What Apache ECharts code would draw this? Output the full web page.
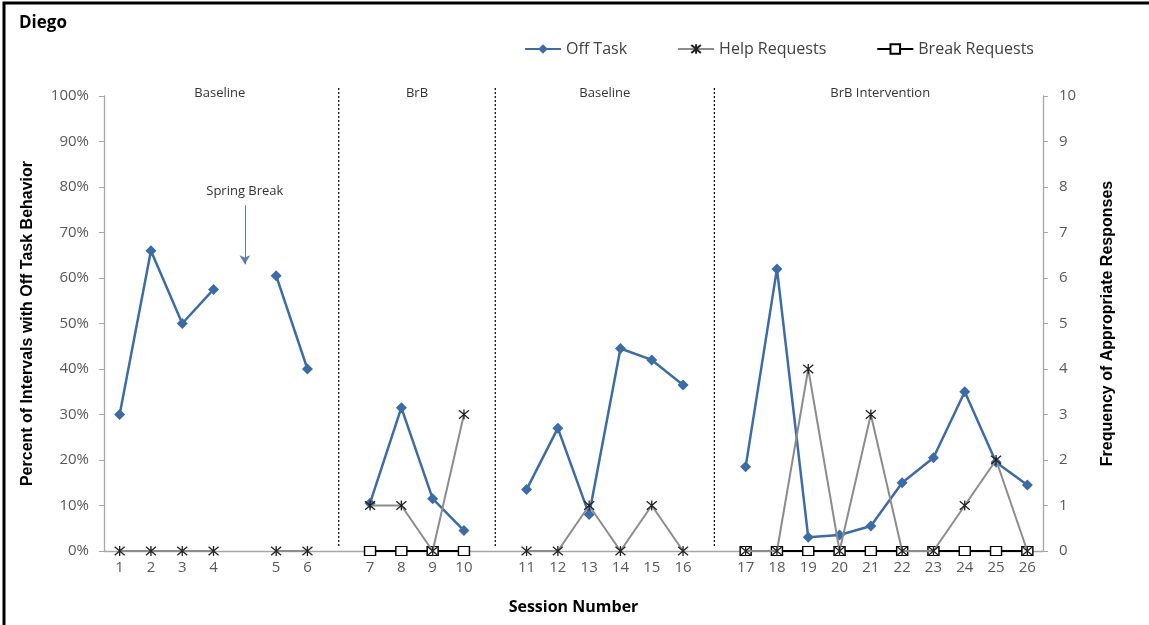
<!DOCTYPE html>
<html><head><meta charset="utf-8">
<script src="https://cdn.jsdelivr.net/npm/echarts@6/dist/echarts.min.js"></script>
<style>html,body{margin:0;padding:0;background:#fff}#c{width:1149px;height:625px}</style>
</head><body><div id="c"></div>
<script>
const categories = ['1','2','3','4','gap1','5','6','gap2','7','8','9','10','gap3','11','12','13','14','15','16','gap4','17','18','19','20','21','22','23','24','25','26'];
const offTask = [30,66,50,57.5,null,60.5,40,null,10.5,31.5,11.5,4.5,null,13.5,27,8,44.5,42,36.5,null,18.5,62,3,3.5,5.5,15,20.5,35,19.5,14.5];
const helpRequests = [0,0,0,0,null,0,0,null,1,1,0,3,null,0,0,1,0,1,0,null,0,0,4,0,3,0,0,1,2,0];
const breakRequests = [null,null,null,null,null,null,null,null,0,0,0,0,null,null,null,null,null,null,null,null,0,0,0,0,0,0,0,0,0,0];
const phaseLineIdx = [7,12,19];
const phases = [{label:'Baseline',idx:3.2},{label:'BrB',idx:9.5},{label:'Baseline',idx:15.5},{label:'BrB Intervention',idx:24.3}];

const FONT = "'Open Sans', 'Liberation Sans', sans-serif";
const NARROW = "'Liberation Sans Narrow', 'Liberation Sans', sans-serif";
const asterisk = 'path://M5,0L5,10M0.8,0.8L9.2,9.2M0.8,9.2L9.2,0.8';

const chart = echarts.init(document.getElementById('c'));
const option = {
  backgroundColor:'#fff',
  animation:false,
  title:{text:'Diego', left:14, top:10, textStyle:{fontFamily:FONT, fontWeight:'bold', fontSize:17, color:'#000'}},
  legend:{
    left:519, top:36, itemWidth:36, itemHeight:12, itemGap:50,
    textStyle:{fontFamily:FONT, fontSize:16, color:'#404040'},
    data:['Off Task','Help Requests','Break Requests']
  },
  grid:{left:104, right:106, top:96, bottom:74, containLabel:false},
  xAxis:{
    type:'category', data:categories, boundaryGap:true,
    name:'Session Number', nameLocation:'middle', nameGap:48,
    nameTextStyle:{fontFamily:FONT, fontWeight:'bold', fontSize:16, color:'#000'},
    axisLine:{lineStyle:{color:'#A6A6A6', width:1.3}},
    axisTick:{interval:0, length:5, lineStyle:{color:'#A6A6A6'}},
    axisLabel:{interval:0, margin:9, fontFamily:FONT, fontSize:15, color:'#595959',
      formatter:v=> v.indexOf('gap')===0 ? '' : v}
  },
  yAxis:[{
    type:'value', min:0, max:100, interval:10, position:'left',
    name:'Percent of Intervals with Off Task Behavior', nameLocation:'middle', nameGap:68, nameRotate:90,
    nameTextStyle:{fontFamily:NARROW, fontWeight:'bold', fontSize:16, color:'#000'},
    axisLine:{show:true, lineStyle:{color:'#A6A6A6', width:1.3}},
    axisTick:{show:true, length:5, lineStyle:{color:'#A6A6A6'}},
    splitLine:{show:false},
    axisLabel:{margin:15, fontFamily:FONT, fontSize:15, color:'#595959', formatter:'{value}%'}
  },{
    type:'value', min:0, max:10, interval:1, position:'right',
    name:'Frequency of Appropriate Responses', nameLocation:'middle', nameGap:57, nameRotate:90,
    nameTextStyle:{fontFamily:NARROW, fontWeight:'bold', fontSize:16, color:'#000'},
    axisLine:{show:true, lineStyle:{color:'#A6A6A6', width:1.3}},
    axisTick:{show:true, length:5, lineStyle:{color:'#A6A6A6'}},
    splitLine:{show:false},
    axisLabel:{margin:16, fontFamily:FONT, fontSize:15, color:'#595959'}
  }],
  series:[{
    name:'Break Requests', type:'line', yAxisIndex:1, data:breakRequests,
    symbol:'rect', symbolSize:[11,9], z:2,
    lineStyle:{color:'#000', width:2},
    itemStyle:{color:'#fff', borderColor:'#000', borderWidth:1.3}
  },{
    name:'Off Task', type:'line', yAxisIndex:0, data:offTask,
    symbol:'diamond', symbolSize:11, z:3,
    lineStyle:{color:'#3C6CA6', width:2.5},
    itemStyle:{color:'#3C6CA6'},
    markLine:{silent:true, symbol:['none','arrow'], symbolSize:[8,9], label:{show:false},
      lineStyle:{color:'#5B7FA8', type:'solid', width:1},
      data:[[{coord:[4,76]},{coord:[4,63]}]]}
  },{
    name:'Help Requests', type:'line', yAxisIndex:1, data:helpRequests,
    symbol:asterisk, symbolSize:10, z:4,
    lineStyle:{color:'#8C8C8C', width:2},
    itemStyle:{color:'none', borderColor:'#222', borderWidth:1.3}
  }]
};
chart.setOption(option);

function px(idx, val){
  const f = Math.floor(idx), c = Math.ceil(idx), t = idx - f;
  const a = chart.convertToPixel({xAxisIndex:0, yAxisIndex:0}, [f, val]);
  const b = chart.convertToPixel({xAxisIndex:0, yAxisIndex:0}, [c, val]);
  return [a[0] + (b[0]-a[0])*t, a[1]];
}
const g = [];
phaseLineIdx.forEach(i=>{
  const top = px(i, 100), bot = px(i, 0);
  g.push({type:'line', shape:{x1:top[0], y1:top[1]-8, x2:bot[0], y2:bot[1]-5}, silent:true,
    style:{stroke:'#000', lineWidth:1.2, lineDash:[2,2]}});
});
phases.forEach(p=>{
  const pt = px(p.idx, 100);
  g.push({type:'text', x:pt[0], y:pt[1]-3, style:{text:p.label, align:'center', verticalAlign:'middle',
    fontFamily:FONT, fontSize:13, fill:'#333'}});
});
const sb = px(4, 79);
g.push({type:'text', x:sb[0], y:sb[1], style:{text:'Spring Break', align:'center', verticalAlign:'middle',
  fontFamily:FONT, fontSize:13, fill:'#333'}});
g.push({type:'rect', shape:{x:4, y:3, width:1300, height:800}, style:{fill:'none', stroke:'#000', lineWidth:3}, silent:true});
chart.setOption({graphic:g});
</script></body></html>
